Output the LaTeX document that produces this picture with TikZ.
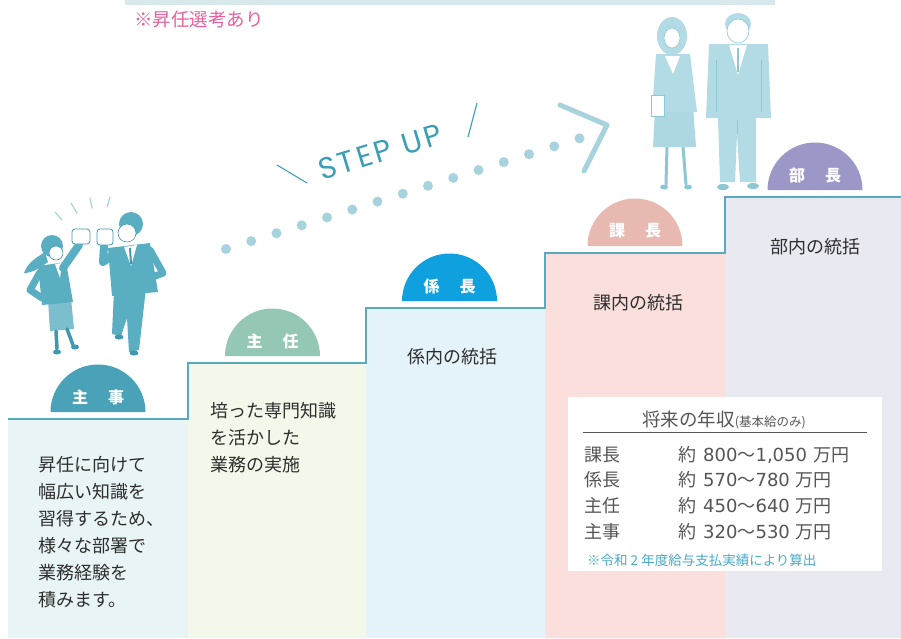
\documentclass[tikz,border=0pt]{standalone}
\usepackage{fontspec}
\setmainfont{Noto Sans CJK JP}
\newfontfamily\latinfont[LetterSpace=10]{Poppins}
\newfontfamily\numfont{DejaVu Sans}
\newcommand{\payrange}[2]{約\hspace{7pt}{\numfont #1}～{\numfont #2}\hspace{6pt}万円}
\definecolor{bandc}{HTML}{D8E9EE}
\definecolor{notec}{HTML}{E75F9C}
\definecolor{stairc}{HTML}{5AAABF}
\definecolor{fillA}{HTML}{E9F4F7}
\definecolor{fillB}{HTML}{F3F8EB}
\definecolor{fillC}{HTML}{E5F3FA}
\definecolor{fillD}{HTML}{FADFDD}
\definecolor{fillE}{HTML}{E9E9F2}
\definecolor{badgeA}{HTML}{49A2B8}
\definecolor{badgeB}{HTML}{95C8B4}
\definecolor{badgeC}{HTML}{0FA0DF}
\definecolor{badgeD}{HTML}{E8B9B1}
\definecolor{badgeE}{HTML}{9B98C7}
\definecolor{dotc}{HTML}{A6D3DE}
\definecolor{stepc}{HTML}{3C9DB7}
\definecolor{txt}{HTML}{2E2E2E}
\definecolor{paytxt}{HTML}{555555}
\definecolor{footc}{HTML}{4AABC8}
\definecolor{figA}{HTML}{5AAEC2}
\definecolor{figAd}{HTML}{3F98AE}
\definecolor{figB}{HTML}{B3DBE5}
\definecolor{figBd}{HTML}{8EC7D4}
\begin{document}
\begin{tikzpicture}[x=1pt,y=-1pt,
  badgelabel/.style={text=white, inner sep=0pt, font=\fontsize{16}{16}\selectfont\bfseries},
  bodytext/.style={font=\fontsize{18}{27}\selectfont, text=txt, align=left, inner sep=0pt},
  paytext/.style={font=\fontsize{18}{18}\selectfont, text=paytxt, inner sep=0pt, anchor=west},
  fistbox/.style={fill=white, draw=figAd, line width=0.8pt, rounded corners=3pt}]
\useasboundingbox (0,0) rectangle (901,638);

% header band and note
\fill[bandc] (125,0) rectangle (775,5);
\node[text=notec, font=\fontsize{18.5}{18.5}\selectfont, anchor=west, inner sep=0pt] (note) at (134,19) {※昇任選考あり};

% stair fills
\fill[fillA] (8,419) rectangle (188,638);
\fill[fillB] (188,363) rectangle (366,638);
\fill[fillC] (366,308) rectangle (545,638);
\fill[fillD] (545,253) rectangle (725,638);
\fill[fillE] (725,197) rectangle (901,638);

% stair outline
\draw[stairc, line width=1.4pt] (8,419) -- (188,419) -- (188,363) -- (366,363) -- (366,308)
  -- (545,308) -- (545,253) -- (725,253) -- (725,197) -- (901,197);

% rank badges
\fill[badgeA] (50.5,412) arc[start angle=180, end angle=0, radius=47.5pt] -- cycle;
\fill[badgeB] (225,356) arc[start angle=180, end angle=0, radius=47.5pt] -- cycle;
\fill[badgeC] (402,301) arc[start angle=180, end angle=0, radius=47.5pt] -- cycle;
\fill[badgeD] (587.5,246) arc[start angle=180, end angle=0, radius=47.5pt] -- cycle;
\fill[badgeE] (767.5,190) arc[start angle=180, end angle=0, radius=47.5pt] -- cycle;
\node[badgelabel] (rA) at (98,397) {主\hspace{20pt}事};
\node[badgelabel] (rB) at (272.5,341) {主\hspace{20pt}任};
\node[badgelabel] (rC) at (449.5,286) {係\hspace{20pt}長};
\node[badgelabel] (rD) at (635,231) {課\hspace{20pt}長};
\node[badgelabel] (rE) at (815,175) {部\hspace{20pt}長};

% step descriptions
\node[bodytext, anchor=north west] (dA) at (38,456) {昇任に向けて\\幅広い知識を\\習得するため、\\様々な部署で\\業務経験を\\積みます。};
\node[bodytext, anchor=north west] (dB) at (210,402) {培った専門知識\\を活かした\\業務の実施};
\node[bodytext] (dC) at (452,357) {係内の統括};
\node[bodytext] (dD) at (638,303) {課内の統括};
\node[bodytext] (dE) at (815,247) {部内の統括};

% salary panel
\fill[white] (568,397) rectangle (882,571);
\node[text=paytxt, inner sep=0pt, font=\fontsize{18.5}{18.5}\selectfont] (paytitle) at (724,420)
  {将来の年収{\fontsize{12.5}{12.5}\selectfont(基本給のみ)}};
\draw[paytxt, line width=0.8pt] (583,432) -- (867,432);
\node[paytext] (k1) at (584,455) {課長};
\node[paytext] (k2) at (584,480) {係長};
\node[paytext] (k3) at (584,506) {主任};
\node[paytext] (k4) at (584,532) {主事};
\node[paytext] (v1) at (678,455) {\payrange{800}{1,050}};
\node[paytext] (v2) at (678,480) {\payrange{570}{780}};
\node[paytext] (v3) at (678,506) {\payrange{450}{640}};
\node[paytext] (v4) at (678,532) {\payrange{320}{530}};
\node[text=footc, inner sep=0pt, anchor=west, font=\fontsize{13.5}{13.5}\selectfont] (foot) at (587,560)
  {※令和 2 年度給与支払実績により算出};

% step-up dotted path and chevron
\foreach \i in {0,...,14}
  \fill[dotc] ({226+25.25*\i},{249-7.9*\i}) circle[radius=5];
\coordinate (cvA) at (560,105);
\coordinate (cvB) at (607,125);
\coordinate (cvC) at (584,171);
\draw[dotc, line width=5pt, line cap=round, line join=round] (cvA) -- (cvB) -- (cvC);
\node[rotate=17, text=stepc, inner sep=0pt, font=\latinfont\fontsize{30}{30}\selectfont] (stepup) at (380,152) {STEP UP};
\coordinate (slA1) at (277,165);
\coordinate (slA2) at (307,183);
\coordinate (slB1) at (477,103);
\coordinate (slB2) at (468,137);
\draw[stepc, line width=1.1pt] (slA1) -- (slA2);
\draw[stepc, line width=1.1pt] (slB1) -- (slB2);

% fist-bump pair
\foreach \a/\b/\c/\d in {55/212/62/220, 71/203/77/213, 90/198/92/208, 110/197/107/207}
  \draw[dotc, line width=1.2pt, line cap=round] (\a,\b) -- (\c,\d);
% woman
\fill[figA] (45,252) .. controls (36,258) and (28,262) .. (24,273) .. controls (33,273) and (41,267) .. (48,262) -- cycle;
\draw[figA, line width=7pt, line cap=round, line join=round] (40,272) -- (30,290) -- (42,298);
\fill[figA!80!white] (48,300) -- (71,298) -- (74,329) -- (50,331) -- cycle;
\draw[figAd, line width=3.5pt, line cap=round] (56,331) -- (57,349);
\draw[figAd, line width=3.5pt, line cap=round] (67,329) -- (73,345);
\fill[figAd] (57,352) ellipse[x radius=4, y radius=2.5];
\fill[figAd] (75,347) ellipse[x radius=4, y radius=2.5];
\fill[figA] (38,266) -- (66,262) -- (73,302) -- (42,305) -- cycle;
\fill[white] (55,264) -- (62,263) -- (60,278) -- cycle;
\draw[figA, line width=8pt, line cap=round] (63,268) -- (79,245);
\fill[figA] (52,246) circle[radius=11];
\filldraw[fill=white, draw=figAd, line width=0.6pt] (56,253) circle[radius=7];
\draw[fistbox] (72,229) rectangle (90,244);
% man
\draw[figA, line width=7pt, line cap=round, line join=round] (150,250) -- (163,273) -- (140,282);
\fill[figA] (114,290) -- (146,288) -- (139,350) -- (129,352) -- (127,318) -- (121,336) -- (112,334) -- cycle;
\fill[figAd] (119,337) ellipse[x radius=4.5, y radius=2.5];
\fill[figAd] (134,353) ellipse[x radius=4.5, y radius=2.5];
\fill[figA] (108,248) -- (150,243) -- (158,292) -- (112,296) -- cycle;
\fill[white] (124,247) -- (137,245) -- (131,266) -- cycle;
\draw[figAd, line width=2pt] (130,248) -- (131,264);
\draw[figA, line width=8pt, line cap=round, line join=round] (115,254) -- (103,262) -- (104,246);
\fill[figA] (131,224) circle[radius=12];
\filldraw[fill=white, draw=figAd, line width=0.6pt] (127,233) circle[radius=9];
\draw[fistbox] (97,229) rectangle (113,245);

% standing pair
% woman
\fill[figB] (672,36) ellipse[x radius=15, y radius=19];
\filldraw[fill=white, draw=figBd, line width=0.6pt] (672,38) ellipse[x radius=8, y radius=10];
\draw[figBd, line width=3pt, line cap=round] (667,147) -- (666,184);
\draw[figBd, line width=3pt, line cap=round] (683,147) -- (686,184);
\fill[figBd] (664,187) ellipse[x radius=4, y radius=2.5];
\fill[figBd] (688,187) ellipse[x radius=4, y radius=2.5];
\fill[figB!85!figBd] (656,92) -- (692,92) -- (696,147) -- (653,147) -- cycle;
\fill[figB] (656,54) -- (690,54) -- (697,112) -- (652,112) -- cycle;
\fill[white] (665,56) -- (680,56) -- (673,74) -- cycle;
\filldraw[fill=white, draw=figBd, line width=0.6pt] (651,95) rectangle (664,116);
% man
\fill[figB] (718,118) -- (720,182) -- (735,182) -- (737,134) -- (740,182) -- (756,182) -- (756,118) -- cycle;
\draw[figBd, line width=0.8pt] (737,134) -- (737,120);
\fill[figBd] (723,187) ellipse[x radius=6, y radius=3];
\fill[figBd] (753,186) ellipse[x radius=6, y radius=3];
\fill[figB] (709,44) -- (768,44) -- (771,118) -- (706,118) -- cycle;
\draw[figBd, line width=0.8pt] (716,60) -- (716,112);
\draw[figBd, line width=0.8pt] (761,60) -- (761,112);
\fill[white] (729,45) -- (747,45) -- (738,75) -- cycle;
\draw[figBd, line width=2pt] (738,48) -- (738,72);
\fill[figB] (738,24) ellipse[x radius=13, y radius=11];
\filldraw[fill=white, draw=figBd, line width=0.6pt] (738,31) ellipse[x radius=11, y radius=12];
\end{tikzpicture}
\end{document}
